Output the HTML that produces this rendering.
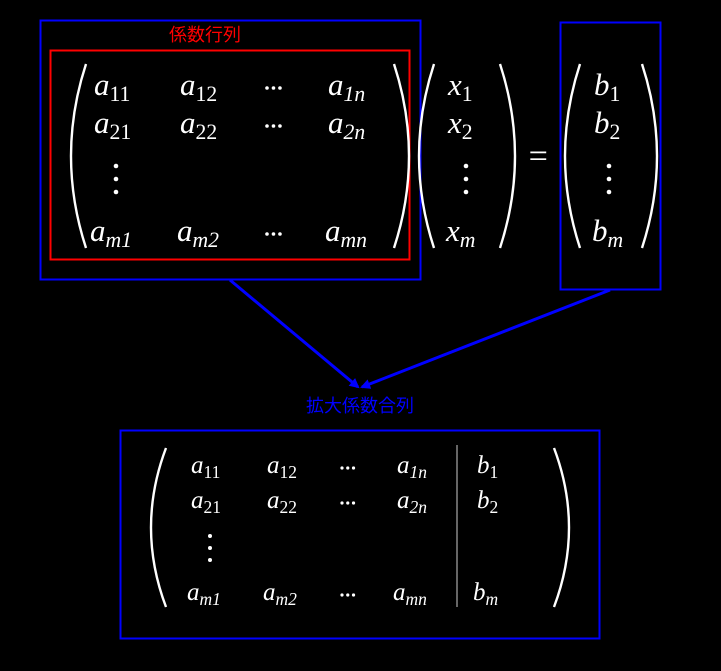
<!DOCTYPE html>
<html><head><meta charset="utf-8"><style>
html,body{margin:0;padding:0;background:#000;}
svg{display:block;}
.m{font-family:"Liberation Serif",serif;font-style:italic;fill:#fff;}
.cjk{font-family:"Liberation Sans","Noto Sans CJK JP",sans-serif;}
</style></head><body>
<svg id="s" width="721" height="671" viewBox="0 0 721 671">
<rect width="721" height="671" fill="#000"/>
<defs><marker id="ah" markerWidth="10" markerHeight="10" refX="8" refY="5" orient="auto" markerUnits="userSpaceOnUse"><path d="M0,0 L10,5 L0,10 z" fill="#0000ff"/></marker></defs>
<rect x="40.5" y="20.5" width="380" height="259" fill="none" stroke="#0000ff" stroke-width="2"/>
<rect x="50.5" y="50.5" width="359" height="209" fill="none" stroke="#ff0000" stroke-width="2"/>
<text x="205" y="41" class="cjk" font-size="18" fill="#ff0000" text-anchor="middle">係数行列</text>
<rect x="560.5" y="22.5" width="100" height="267" fill="none" stroke="#0000ff" stroke-width="2"/>
<line x1="230" y1="280" x2="358" y2="387" stroke="#0000ff" stroke-width="3" marker-end="url(#ah)"/>
<line x1="610" y1="290" x2="362" y2="387" stroke="#0000ff" stroke-width="3" marker-end="url(#ah)"/>
<text x="360" y="412" class="cjk" font-size="18" fill="#0000ff" text-anchor="middle">拡大係数合列</text>
<rect x="120.5" y="430.5" width="479" height="208" fill="none" stroke="#0000ff" stroke-width="2"/>
<line x1="457" y1="445" x2="457" y2="607" stroke="#ccc" stroke-width="1"/>
<text x="538" y="167" class="m" font-size="34" font-style="normal" text-anchor="middle">=</text>
</svg>
<script>
const svg=document.getElementById('s');
const NS='http://www.w3.org/2000/svg';
function paren(x,y1,y2,dir,name){
  const p=document.createElementNS(NS,'path');
  const mid=(y1+y2)/2;const b=dir*-30;
  p.setAttribute('d',`M${x} ${y1} Q${x+b} ${mid} ${x} ${y2}`);
  p.setAttribute('stroke','#fff');p.setAttribute('stroke-width','2.4');p.setAttribute('fill','none');
  
  
  svg.appendChild(p);
}
function entry(x,y,base,sub,fs,name){
  const t=document.createElementNS(NS,'text');
  t.setAttribute('x',x);t.setAttribute('y',y);t.setAttribute('class','m');t.setAttribute('font-size',fs);
  
  
  t.appendChild(document.createTextNode(base));
  if(sub){const s=document.createElementNS(NS,'tspan');s.setAttribute('font-size',fs*0.7);s.setAttribute('dy',fs*0.2);
    s.setAttribute('font-style',/^\d+$/.test(sub)?'normal':'italic');s.textContent=sub;t.appendChild(s);}
  svg.appendChild(t);
}
function cdots(x,y,r,name){for(let i=0;i<3;i++){const c=document.createElementNS(NS,'circle');c.setAttribute('cx',x+i*r*3.6);c.setAttribute('cy',y);c.setAttribute('r',r);c.setAttribute('fill','#fff');
  
  
  svg.appendChild(c);}}
function vdots(x,y,gap,r,name){for(let i=0;i<3;i++){const c=document.createElementNS(NS,'circle');c.setAttribute('cx',x);c.setAttribute('cy',y+i*gap);c.setAttribute('r',r);c.setAttribute('fill','#fff');
  
  
  svg.appendChild(c);}}
// top coefficient matrix
paren(86,64,248,1,'coef-left-paren');paren(394,64,248,-1,'coef-right-paren');
const ty=[95,133,241],tf=31;
entry(94,ty[0],'a','11',tf,'a11');entry(180,ty[0],'a','12',tf,'a12');cdots(267,ty[0]-7,1.8,'row1-cdots');entry(328,ty[0],'a','1n',tf,'a1n');
entry(94,ty[1],'a','21',tf,'a21');entry(180,ty[1],'a','22',tf,'a22');cdots(267,ty[1]-7,1.8,'row2-cdots');entry(328,ty[1],'a','2n',tf,'a2n');
vdots(116,166,13,2.3,'col1-vdots');
entry(90,ty[2],'a','m1',tf,'am1');entry(177,ty[2],'a','m2',tf,'am2');cdots(267,ty[2]-7,1.8,'rowm-cdots');entry(325,ty[2],'a','mn',tf,'amn');
// x vector
paren(434,64,248,1,'x-left-paren');paren(500,64,248,-1,'x-right-paren');
entry(448,ty[0],'x','1',tf,'x1');entry(448,ty[1],'x','2',tf,'x2');vdots(466,166,13,2.3,'x-vdots');entry(446,ty[2],'x','m',tf,'xm');
// b vector
paren(580,64,248,1,'b-left-paren');paren(642,64,248,-1,'b-right-paren');
entry(594,ty[0],'b','1',tf,'b1');entry(594,ty[1],'b','2',tf,'b2');vdots(609,166,13,2.3,'b-vdots');entry(592,ty[2],'b','m',tf,'bm');
// augmented matrix
paren(166,448,607,1,'aug-left-paren');paren(554,448,607,-1,'aug-right-paren');
const by=[473,508,600],bf=25;
entry(191,by[0],'a','11',bf,'aug-a11');entry(267,by[0],'a','12',bf,'aug-a12');cdots(342,by[0]-5,1.6,'aug-row1-cdots');entry(397,by[0],'a','1n',bf,'aug-a1n');entry(477,by[0],'b','1',bf,'aug-b1');
entry(191,by[1],'a','21',bf,'aug-a21');entry(267,by[1],'a','22',bf,'aug-a22');cdots(342,by[1]-5,1.6,'aug-row2-cdots');entry(397,by[1],'a','2n',bf,'aug-a2n');entry(477,by[1],'b','2',bf,'aug-b2');
vdots(210,536,12,2,'aug-vdots');
entry(187,by[2],'a','m1',bf,'aug-am1');entry(263,by[2],'a','m2',bf,'aug-am2');cdots(342,by[2]-5,1.6,'aug-rowm-cdots');entry(393,by[2],'a','mn',bf,'aug-amn');entry(473,by[2],'b','m',bf,'aug-bm');
</script>
</body></html>
